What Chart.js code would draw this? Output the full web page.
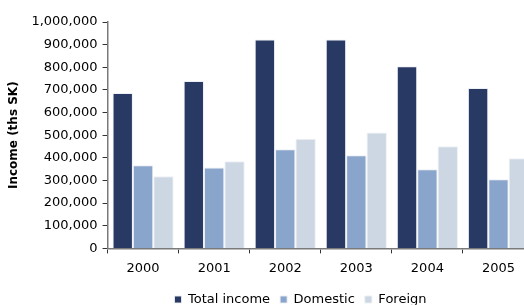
<!DOCTYPE html>
<html>
<head>
<meta charset="utf-8">
<script src="https://cdn.jsdelivr.net/npm/chart.js@4/dist/chart.umd.min.js"></script>
<style>
  html, body { margin: 0; padding: 0; background: #fff; overflow: hidden; }
  #wrap { position: relative; width: 534px; height: 316px; }
</style>
</head>
<body>
<div id="wrap"><canvas id="chart"></canvas></div>
<script>
const years = ["2000", "2001", "2002", "2003", "2004", "2005"];
const totalIncome = [686000, 739000, 923000, 923000, 805000, 708000];
const domestic = [367000, 357000, 438000, 411000, 350000, 305000];
const foreign = [319000, 385000, 484000, 512000, 451000, 398000];
const yTicks = [0, 100000, 200000, 300000, 400000, 500000, 600000, 700000, 800000, 900000, 1000000];

const fontFamily = "'DejaVu Sans', sans-serif";
const axisColor = '#7a7a7a';

// legend in the original sits right of centre
const legendShift = {
    id: 'legendShift',
    afterLayout(chart) {
        chart.legend.left += 30;
        chart.legend.right += 30;
    }
};

new Chart(document.getElementById('chart'), {
    type: 'bar',
    data: {
        labels: years,
        datasets: [
            { label: 'Total income', data: totalIncome, backgroundColor: '#283a64' },
            { label: 'Domestic', data: domestic, backgroundColor: '#8aa5cc' },
            { label: 'Foreign', data: foreign, backgroundColor: '#cdd7e3' }
        ]
    },
    options: {
        responsive: true,
        maintainAspectRatio: false,
        animation: false,
        datasets: {
            bar: {
                categoryPercentage: 0.86,
                barPercentage: 1,
                borderWidth: 1,
                borderColor: 'rgba(235,238,244,0.9)',
                borderSkipped: 'bottom'
            }
        },
        layout: { padding: { top: 22, left: 7, right: 0, bottom: 0 } },
        plugins: {
            tooltip: { enabled: false },
            legend: {
                position: 'bottom',
                labels: {
                    boxWidth: 7,
                    boxHeight: 7,
                    padding: 10,
                    color: '#000',
                    font: { family: fontFamily, size: 13 }
                }
            }
        },
        scales: {
            x: {
                offset: true,
                grid: {
                    offset: true,
                    drawOnChartArea: false,
                    drawTicks: true,
                    tickLength: 5,
                    color: '#333'
                },
                border: { display: true, color: axisColor, width: 1.5 },
                ticks: {
                    color: '#000',
                    padding: 7,
                    font: { family: fontFamily, size: 13 }
                }
            },
            y: {
                min: 0,
                max: 1000000,
                afterBuildTicks(axis) {
                    axis.ticks = yTicks.map(v => ({ value: v }));
                },
                grid: {
                    drawOnChartArea: false,
                    drawTicks: true,
                    tickLength: 5,
                    color: '#333'
                },
                border: { display: true, color: axisColor, width: 1.5 },
                ticks: {
                    color: '#000',
                    padding: 5,
                    font: { family: fontFamily, size: 13 },
                    callback: v => v.toLocaleString('en-US')
                },
                title: {
                    display: true,
                    text: 'Income (ths SK)',
                    color: '#000',
                    padding: { top: 0, bottom: 5 },
                    font: { family: fontFamily, size: 12, weight: 'bold' }
                }
            }
        }
    },
    plugins: [legendShift]
});
</script>
</body>
</html>
